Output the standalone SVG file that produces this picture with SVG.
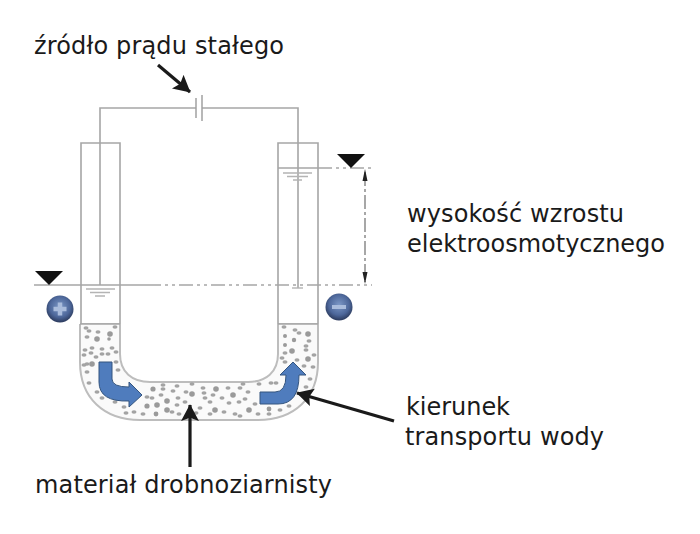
<svg xmlns="http://www.w3.org/2000/svg" width="700" height="534" viewBox="0 0 700 534">
<style>
.ln{fill:none;stroke:#a6a6a6;stroke-width:1.6}
.dd{fill:none;stroke:#a6a6a6;stroke-width:1.6;stroke-dasharray:14 4 3 4 3 4}
.g{fill:none;stroke:#b4b4b4;stroke-width:1.4}
.t{font-family:"DejaVu Sans",sans-serif;font-size:24px;fill:#1a1a1a}
.k{fill:none;stroke:#1a1a1a;stroke-width:3.2}
.b{fill:#4f7cbd;stroke:#34557f;stroke-width:1}
.tri{fill:#111}
.d circle{fill:#9a9a9a}
.d ellipse{fill:#a3a3a3;rx:2.5px;ry:1.7px}
</style>
<defs>
<radialGradient id="sph" cx="50%" cy="42%" r="58%">
<stop offset="0" stop-color="#7c98c6"/><stop offset="0.65" stop-color="#4d679a"/><stop offset="1" stop-color="#2b3a5c"/>
</radialGradient>
<marker id="ah" markerWidth="7" markerHeight="7" refX="5" refY="2.8" orient="auto" markerUnits="strokeWidth"><path d="M0 0L5.200 2.800L0 5.600L1 2.800Z" fill="#1a1a1a"/></marker>
</defs>

<!-- U-tube: two open risers joined by a curved base -->
<g id="vessel">
<path d="M81 143H120V324H81ZM278 143H318V324H278Z" class="ln"/>
<path d="M80 324V362C80 398 104 420 140 420H258C294 420 318 398 318 362V324" fill="#fafafa" stroke="#bdbdbd" stroke-width="2"/>
<path d="M120 324V354C120 372 132 382 150 382H248C266 382 278 372 278 354V324" fill="#fff" stroke="#bdbdbd" stroke-width="2"/>
<path d="M80 324H120M278 324H318" class="ln"/>
</g>

<!-- Fine-grained soil filling the tube base -->
<g id="grains" class="d">
<circle cx="110" cy="334" r="2.800"/><circle cx="97" cy="339" r="2.800"/><circle cx="109" cy="339" r="1.800"/>
<circle cx="92" cy="364" r="2.800"/><circle cx="147" cy="406" r="2.600"/><circle cx="157" cy="405" r="2.800"/><circle cx="167" cy="401" r="2.800"/><circle cx="167" cy="410" r="2.800"/><circle cx="156" cy="414" r="2.400"/>
<circle cx="192" cy="394" r="2.800"/><circle cx="216" cy="389" r="2.800"/><circle cx="233" cy="395" r="2.800"/><circle cx="215" cy="410" r="2.800"/><circle cx="249" cy="410" r="2.800"/><circle cx="153" cy="389" r="2.600"/>
<circle cx="308" cy="359" r="2.800"/><circle cx="292" cy="351" r="2.800"/><circle cx="308" cy="334" r="2.800"/><circle cx="294" cy="340" r="2.200"/><circle cx="285" cy="336" r="2"/><circle cx="285" cy="345" r="2"/><circle cx="269" cy="409" r="2.400"/>
<ellipse cx="86" cy="328"/><ellipse cx="89" cy="331"/><ellipse cx="98" cy="332"/><ellipse cx="115" cy="327"/>
<ellipse cx="87" cy="337"/><ellipse cx="85" cy="350"/><ellipse cx="92" cy="348"/><ellipse cx="102" cy="349"/>
<ellipse cx="112" cy="348"/><ellipse cx="116" cy="352"/><ellipse cx="91" cy="353"/><ellipse cx="102" cy="354"/>
<ellipse cx="84" cy="355"/><ellipse cx="96" cy="357"/><ellipse cx="108" cy="354"/><ellipse cx="84" cy="365"/><ellipse cx="87" cy="364"/>
<ellipse cx="87" cy="372"/><ellipse cx="89" cy="383"/><ellipse cx="97" cy="392"/><ellipse cx="102" cy="398"/>
<ellipse cx="115" cy="402"/><ellipse cx="118" cy="370"/><ellipse cx="116" cy="362"/><ellipse cx="124" cy="407"/>
<ellipse cx="126" cy="413"/><ellipse cx="134" cy="412"/><ellipse cx="143" cy="414"/><ellipse cx="147" cy="397"/>
<ellipse cx="152" cy="398"/><ellipse cx="161" cy="395"/><ellipse cx="173" cy="391"/><ellipse cx="163" cy="385"/>
<ellipse cx="163" cy="389"/><ellipse cx="177" cy="386"/><ellipse cx="192" cy="384"/><ellipse cx="203" cy="388"/>
<ellipse cx="205" cy="398"/><ellipse cx="178" cy="398"/><ellipse cx="177" cy="405"/><ellipse cx="185" cy="402"/>
<ellipse cx="179" cy="414"/><ellipse cx="196" cy="413"/><ellipse cx="200" cy="408"/><ellipse cx="210" cy="402"/>
<ellipse cx="213" cy="395"/><ellipse cx="222" cy="398"/><ellipse cx="228" cy="388"/><ellipse cx="240" cy="388"/>
<ellipse cx="248" cy="392"/><ellipse cx="259" cy="384"/><ellipse cx="239" cy="402"/><ellipse cx="229" cy="403"/>
<ellipse cx="245" cy="399"/><ellipse cx="224" cy="412"/><ellipse cx="235" cy="414"/><ellipse cx="240" cy="416"/>
<ellipse cx="258" cy="414"/><ellipse cx="269" cy="414"/><ellipse cx="280" cy="410"/><ellipse cx="289" cy="406"/>
<ellipse cx="271" cy="383"/><ellipse cx="276" cy="383"/><ellipse cx="294" cy="393"/><ellipse cx="310" cy="379"/>
<ellipse cx="306" cy="387"/><ellipse cx="304" cy="366"/><ellipse cx="313" cy="367"/><ellipse cx="284" cy="327"/>
<ellipse cx="295" cy="330"/><ellipse cx="299" cy="333"/><ellipse cx="309" cy="341"/><ellipse cx="306" cy="346"/>
<ellipse cx="306" cy="350"/><ellipse cx="285" cy="353"/><ellipse cx="282" cy="358"/><ellipse cx="285" cy="362"/>
<ellipse cx="297" cy="360"/><ellipse cx="314" cy="355"/><ellipse cx="186" cy="392"/><ellipse cx="172" cy="412"/>
<ellipse cx="204" cy="393"/><ellipse cx="255" cy="404"/><ellipse cx="210" cy="414"/><ellipse cx="243" cy="384"/>
</g>

<!-- DC circuit and water-level ticks -->
<g id="circuit">
<path d="M100 285V108H196M298 288V108H202" class="ln"/>
<path d="M196 98V118" stroke="#a0a0a0" stroke-width="1.500"/>
<path d="M202 95V121" stroke="#a0a0a0" stroke-width="1.500"/>
<path d="M86 289H115M90 292.500H110M95 296H105" class="g"/>
<path d="M283 173H312M287 176.500H308M293 180H302" class="g"/>
<path d="M292 288H303" class="g"/>
</g>

<!-- Water levels and the rise dimension -->
<g id="levels">
<path d="M34 285H147" class="ln"/>
<path d="M147 285H372" class="dd"/>
<path d="M278 168H318" class="ln"/>
<path d="M318 168H372" class="dd"/>
<path d="M365 172V282" stroke="#8a8a8a" stroke-width="1.500" stroke-dasharray="14 3 3 3" fill="none"/>
<path d="M365 169L362.500 181H367.500ZM365 284L362.500 272H367.500Z" fill="#222"/>
<path d="M35 271H63L49 285Z" class="tri"/>
<path d="M337 154H365L351 168Z" class="tri"/>
</g>

<g id="plus">
<circle cx="60" cy="309" r="13.500" fill="url(#sph)"/>
<path d="M60 302.500V315.500M53.500 309H66.500" stroke="#a9bcdc" stroke-width="4.500"/>
</g>
<g id="minus">
<circle cx="339" cy="307" r="13.500" fill="url(#sph)"/>
<path d="M332 307H346" stroke="#a9bcdc" stroke-width="4"/>
</g>

<g id="flow-left"><path class="b" d="M99 362H112V379Q112 387 129 387V382L142 395L129 407V401Q99 402 99 382Z"/></g>
<g id="flow-right"><path class="b" d="M260 392H275Q286 392 286 375H280L293 362L306 375H299Q299 404 278 404H260Z"/></g>

<g id="pointers">
<path class="k" d="M158 65L190 92" marker-end="url(#ah)"/>
<path class="k" d="M394 421L297 393" marker-end="url(#ah)"/>
<path class="k" d="M190 467V405" marker-end="url(#ah)"/>
</g>

<g id="labels">
<text class="t" x="34" y="54" textLength="250">źródło prądu stałego</text>
<text class="t" x="407" y="222" textLength="217">wysokość wzrostu</text>
<text class="t" x="407" y="252" textLength="258">elektroosmotycznego</text>
<text class="t" x="406" y="415" textLength="104">kierunek</text>
<text class="t" x="405" y="445" textLength="199">transportu wody</text>
<text class="t" x="35" y="493" textLength="297">materiał drobnoziarnisty</text>
</g>
</svg>
